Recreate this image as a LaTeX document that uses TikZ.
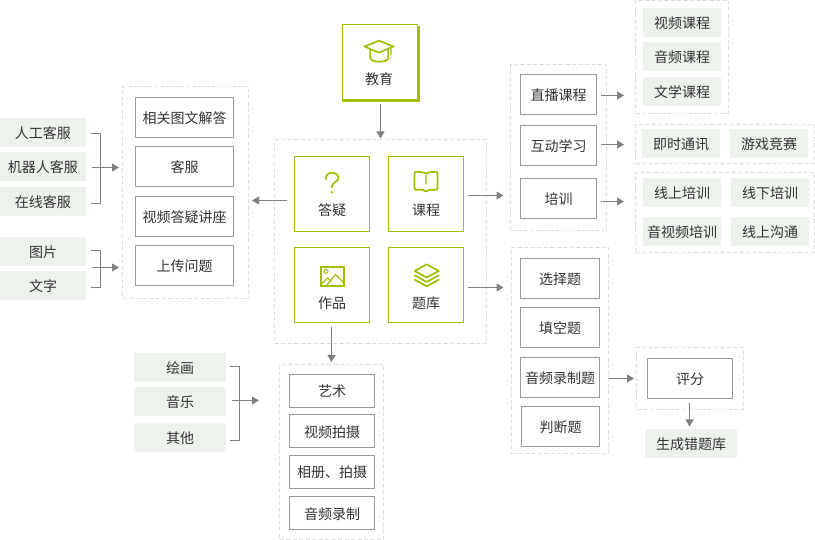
\documentclass[tikz,border=0pt]{standalone}
\usepackage{fontspec}
\setmainfont{Noto Sans CJK SC}
\usetikzlibrary{arrows.meta}
\definecolor{lime}{HTML}{9DC100}
\definecolor{pale}{HTML}{EDF2ED}
\definecolor{dashc}{HTML}{DDDDDD}
\definecolor{boxc}{HTML}{999999}
\definecolor{arrc}{HTML}{808080}
\definecolor{txt}{HTML}{333333}
\tikzset{
  every node/.style={inner sep=0pt,outer sep=0pt,font=\fontsize{14}{16}\selectfont,text=txt,text height=13pt,text depth=1pt},
  groupbox/.style={draw=dashc,line width=1pt,dash pattern=on 4pt off 2.5pt},
  itembox/.style={draw=boxc,line width=1pt,fill=white},
  tagbox/.style={fill=pale},
  mainbox/.style={draw=lime,line width=1.1pt,fill=white},
  arr/.style={draw=arrc,line width=1pt,-{Triangle[length=7pt,width=8pt,fill=arrc]}},
  brk/.style={draw=arrc,line width=1pt},
  ico/.style={draw=lime,line width=1.7pt,line join=round,line cap=round},
  icothin/.style={draw=lime!70,line width=1.2pt,line cap=round},
}
\newcommand{\bx}[7]{\node[#2,minimum width={#5-#3},minimum height={#6-#4}] (#1) at ({(#3+#5)/2},{(#4+#6)/2}) {#7};}
\begin{document}
\begin{tikzpicture}[x=1pt,y=-1pt]
\useasboundingbox (0,0) rectangle (815,540);
% group frames
\bx{gmid}{groupbox}{274.5}{139.5}{486.5}{343.5}{}
\bx{gleft}{groupbox}{122.5}{86.5}{248.5}{298.5}{}
\bx{gart}{groupbox}{279.5}{364.5}{383.5}{539.5}{}
\bx{gcourse}{groupbox}{510.5}{64.5}{606.5}{230.5}{}
\bx{gquiz}{groupbox}{511.5}{247.5}{608.5}{453.5}{}
\bx{gla}{groupbox}{635.5}{0.5}{728.5}{113.5}{}
\bx{glb}{groupbox}{635.5}{124.5}{814.5}{163.5}{}
\bx{glc}{groupbox}{635.5}{172.5}{814.5}{252.5}{}
\bx{gscore}{groupbox}{636.5}{347.5}{743.5}{409.5}{}
% top
\fill[lime] (342,26) rectangle (420,102.5);
\bx{edu}{mainbox}{342.5}{24.5}{417.5}{99.5}{}
\node (edut) at (379,78.5) {教育};
% main
\bx{dy}{mainbox}{294.5}{156.5}{369.5}{231.5}{}
\bx{kc}{mainbox}{388.5}{156.5}{463.5}{231.5}{}
\bx{zp}{mainbox}{294.5}{247.5}{369.5}{322.5}{}
\bx{tk}{mainbox}{388.5}{247.5}{463.5}{322.5}{}
\node (dyt) at (332,210) {答疑};
\node (kct) at (426,210) {课程};
\node (zpt) at (332,302.5) {作品};
\node (tkt) at (426,302.5) {题库};
% icons
\draw[ico] (379,40.7) -- (364.5,46.5) -- (379,52.7) -- (393.5,46.5) -- cycle;
\draw[ico] (370.3,49.5) -- (370.3,58) .. controls (371,60.5) and (375,61.7) .. (379.3,61.7) .. controls (384,61.7) and (387.6,60.5) .. (388.3,58) -- (388.3,49.5);
\draw[icothin] (391,48) -- (391,55);
\fill[lime!80] (391,58.3) circle (0.8);
\draw[ico] (325.7,179) .. controls (325.7,175) and (328.5,172.7) .. (332,172.7) .. controls (335.8,172.7) and (338.5,175.2) .. (338.5,178.2) .. controls (338.5,181.5) and (331.7,182.5) .. (331.7,187.5);
\fill[lime] (331.7,192.3) circle (1.4);
\draw[ico] (426,173.5) .. controls (423,172) and (419,171.8) .. (415.5,171.8) .. controls (414.8,171.8) and (414.5,172.2) .. (414.5,173) -- (414.5,188.5) .. controls (414.5,189.3) and (414.8,189.7) .. (415.5,189.7) -- (422.5,189.7) -- (426,191.5) -- (429.5,189.7) -- (436.5,189.7) .. controls (437.2,189.7) and (437.5,189.3) .. (437.5,188.5) -- (437.5,173) .. controls (437.5,172.2) and (437.2,171.8) .. (436.5,171.8) .. controls (433,171.8) and (429,172) .. (426,173.5);
\draw[icothin] (426,175) -- (426,184);
\draw[ico,line cap=butt,line join=miter] (321,267) rectangle (344,286);
\draw[lime,line width=1pt] (326,271.3) circle (2);
\draw[lime,line width=1.1pt] (321.5,284) -- (327.7,278) -- (331.5,281.5);
\draw[lime,line width=1.1pt] (326.5,285.5) -- (335.5,274.5) -- (343.5,282.5);
\draw[ico] (426.7,264.3) -- (414.7,271) -- (426.7,277.5) -- (438.8,271) -- cycle;
\draw[ico] (414.7,275.3) -- (426.7,282) -- (438.8,275.3);
\draw[ico] (414.7,279.7) -- (426.7,286.3) -- (438.8,279.7);
% left items
\bx{a1}{itembox}{135.5}{97.5}{233.5}{137.5}{相关图文解答}
\bx{a2}{itembox}{135.5}{146.5}{233.5}{186.5}{客服}
\bx{a3}{itembox}{135.5}{196.5}{233.5}{236.5}{视频答疑讲座}
\bx{a4}{itembox}{135.5}{245.5}{233.5}{285.5}{上传问题}
% far left tags
\bx{t1}{tagbox}{0}{118}{86}{147}{人工客服}
\bx{t2}{tagbox}{0}{152}{86}{181}{机器人客服}
\bx{t3}{tagbox}{0}{187}{86}{216}{在线客服}
\bx{t4}{tagbox}{0}{237}{86}{266}{图片}
\bx{t5}{tagbox}{0}{271}{86}{300}{文字}
% art
\bx{b1}{tagbox}{134}{353}{226}{382}{绘画}
\bx{b2}{tagbox}{134}{387}{226}{416}{音乐}
\bx{b3}{tagbox}{134}{423}{226}{452}{其他}
\bx{c1}{itembox}{289.5}{374.5}{374.5}{407.5}{艺术}
\bx{c2}{itembox}{289.5}{414.5}{374.5}{447.5}{视频拍摄}
\bx{c3}{itembox}{289.5}{455.5}{374.5}{488.5}{相册、拍摄}
\bx{c4}{itembox}{289.5}{496.5}{374.5}{529.5}{音频录制}
% course
\bx{d1}{itembox}{520.5}{74.5}{596.5}{114.5}{直播课程}
\bx{d2}{itembox}{520.5}{125.5}{596.5}{165.5}{互动学习}
\bx{d3}{itembox}{520.5}{178.5}{596.5}{218.5}{培训}
\bx{e1}{tagbox}{643}{8}{721}{37}{视频课程}
\bx{e2}{tagbox}{643}{42}{721}{71}{音频课程}
\bx{e3}{tagbox}{643}{77}{721}{106}{文学课程}
\bx{f1}{tagbox}{642}{129}{720}{158}{即时通讯}
\bx{f2}{tagbox}{730}{129}{808}{158}{游戏竞赛}
\bx{h1}{tagbox}{643}{178}{721}{207}{线上培训}
\bx{h2}{tagbox}{731}{178}{809}{207}{线下培训}
\bx{h3}{tagbox}{643}{217}{721}{246}{音视频培训}
\bx{h4}{tagbox}{731}{217}{809}{246}{线上沟通}
% quiz
\bx{q1}{itembox}{520.5}{258.5}{599.5}{298.5}{选择题}
\bx{q2}{itembox}{520.5}{307.5}{599.5}{347.5}{填空题}
\bx{q3}{itembox}{520.5}{357.5}{599.5}{397.5}{音频录制题}
\bx{q4}{itembox}{521.5}{406.5}{599.5}{446.5}{判断题}
\bx{sc}{itembox}{647.5}{358.5}{732.5}{398.5}{评分}
\bx{er}{tagbox}{645}{429}{737}{458}{生成错题库}
% connectors
\draw[arr] ([shift={(0.5,4.5)}]edu.south) -- ([shift={(0,-1)}]gmid.north);
\draw[arr] ([shift={(-7.5,6.5)}]dy.west) -- ([shift={(3.5,8)}]gleft.east);
\draw[arr] ([shift={(4.5,1.5)}]kc.east) -- ([shift={(-7,48)}]gcourse.west);
\draw[arr] ([shift={(4.5,2.5)}]tk.east) -- ([shift={(-8,-63)}]gquiz.west);
\draw[arr] ([shift={(-0.5,4.5)}]zp.south) -- ([shift={(0,-2.5)}]gart.north);
\draw[arr] ([shift={(4.5,1)}]d1.east) -- ([shift={(-11.5,38.5)}]gla.west);
\draw[arr] ([shift={(4.5,-1)}]d2.east) -- ([shift={(-11.5,0.5)}]glb.west);
\draw[arr] ([shift={(4.5,3)}]d3.east) -- ([shift={(-11.5,-11)}]glc.west);
\draw[arr] ([shift={(9.5,1)}]q3.east) -- ([shift={(-2.5,0)}]gscore.west);
\draw[arr] ([shift={(-0.5,4.5)}]sc.south) -- ([shift={(-1.5,-2.5)}]er.north);
% brackets
\draw[brk] ([shift={(5,1)}]t1.east) -- ++(9.5,0) |- ([shift={(5,2)}]t3.east);
\draw[arr] ([shift={(6,1)}]t2.east) -- ([shift={(-3.5,-25)}]gleft.west);
\draw[brk] ([shift={(4.5,-1)}]t4.east) -- ++(10,0) |- ([shift={(4.5,2)}]t5.east);
\draw[arr] ([shift={(6,16)}]t4.east) -- ([shift={(-3.5,75)}]gleft.west);
\draw[brk] ([shift={(4,-1)}]b1.east) -- ++(9.5,0) |- ([shift={(4,3)}]b3.east);
\draw[arr] ([shift={(6,-1)}]b2.east) -- ([shift={(-20.5,-51.5)}]gart.west);
\end{tikzpicture}
\end{document}
